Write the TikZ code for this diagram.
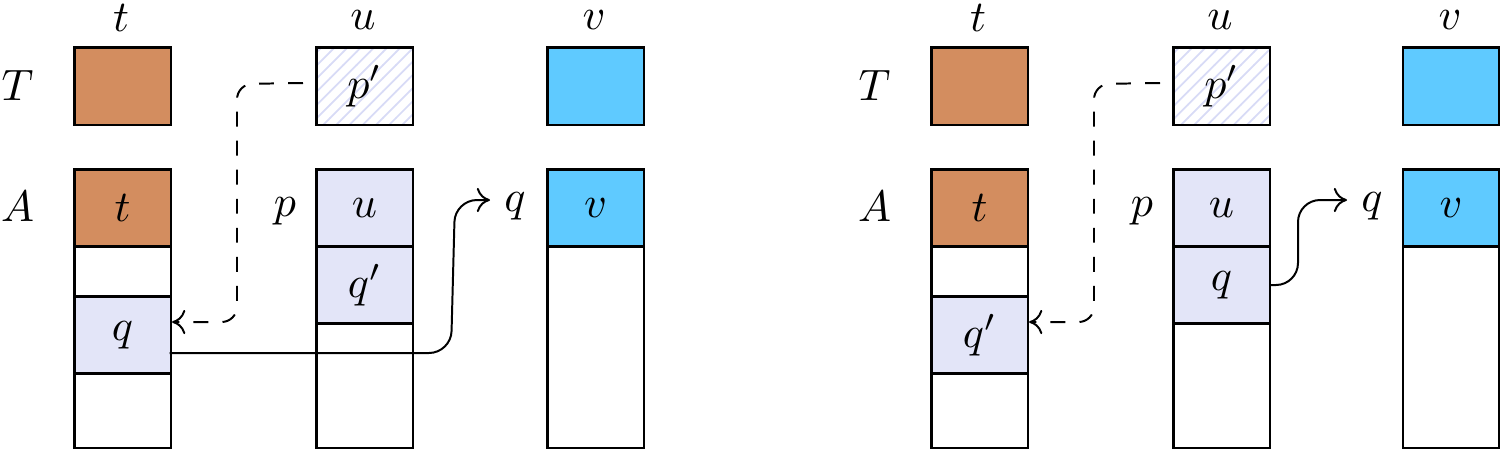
\documentclass[tikz,border=0pt]{standalone}
\usetikzlibrary{patterns,arrows.meta,calc}
\definecolor{corange}{RGB}{211,141,95}
\definecolor{cblue}{RGB}{95,202,255}
\definecolor{clav}{RGB}{227,229,248}
\definecolor{chatch}{RGB}{216,219,246}
\newcommand\pxu{0.2273pt}
\begin{document}
\begin{tikzpicture}[x=0.2273pt,y=-0.2273pt,
  cell/.style={draw, line width=0.6pt, minimum width=96.5*\pxu, inner sep=0pt, anchor=north west},
  hA/.style={minimum height=77*\pxu},
  orangecell/.style={cell, hA, fill=corange},
  bluecell/.style={cell, hA, fill=cblue},
  lavcell/.style={cell, hA, fill=clav},
  hatchcell/.style={cell, minimum height=77.5*\pxu, pattern=north east lines, pattern color=chatch},
  lbl/.style={inner sep=0pt},
  ptr/.style={line width=0.45pt, -{Computer Modern Rightarrow[length=3pt,width=5.5pt]}},
  dptr/.style={ptr, dash pattern=on 3.4pt off 3.2pt, rounded corners=3.5pt},
  sptr/.style={ptr, rounded corners=5pt}
]
\useasboundingbox (0,0) rectangle (1500,448);

% ---------------- left panel ----------------
\node[lbl] (Lht) at (121,18) {$t$};
\node[lbl] (Lhu) at (363,20) {$u$};
\node[lbl] (Lhv) at (594,20) {$v$};
\node[lbl] (LT) at (17.5,85) {$T$};
\node[lbl] (LA) at (17.5,206) {$A$};
\node[lbl] (Lp) at (285,211) {$p$};
\node[lbl] (Lq) at (515,206) {$q$};

\node[cell, minimum height=77.5*\pxu, fill=corange] (LTt) at (73,46) {};
\node[hatchcell] (LTu) at (315,46) {$p'$};
\node[cell, minimum height=77.5*\pxu, fill=cblue] (LTv) at (546,46) {};

\node[orangecell] (LAt1) at (73,168) {$t$};
\node[cell, minimum height=50*\pxu] (LAt2) at (73,245) {};
\node[lavcell] (LAt3) at (73,295) {$q$};
\node[cell, minimum height=74.5*\pxu] (LAt4) at (73,372) {};

\node[lavcell] (LAu1) at (315,168) {$u$};
\node[lavcell] (LAu2) at (315,245) {$q'$};
\node[cell, minimum height=124.5*\pxu] (LAu3) at (315,322) {};

\node[bluecell] (LAv1) at (546,168) {$v$};
\node[cell, minimum height=201.5*\pxu] (LAv2) at (546,245) {};

\coordinate (Ld0) at (303,83);
\coordinate (Ld1) at (237,84);
\coordinate (Ld2) at (237,322);
\draw[dptr] (Ld0) -- (Ld1) -- (Ld2) -- (Ld2 -| LAt3.east);

\coordinate (Ls0) at (169.5,353);
\coordinate (Ls1) at (451,353);
\coordinate (Ls2) at (455,200);
\coordinate (Ls3) at (490,200);
\draw[sptr] (Ls0) -- (Ls1) -- (Ls2) -- (Ls3);

% ---------------- right panel ----------------
\node[lbl] (Rht) at (978,18) {$t$};
\node[lbl] (Rhu) at (1220,20) {$u$};
\node[lbl] (Rhv) at (1450,20) {$v$};
\node[lbl] (RT) at (874.5,85) {$T$};
\node[lbl] (RA) at (874.5,206) {$A$};
\node[lbl] (Rp) at (1142,211) {$p$};
\node[lbl] (Rq) at (1372,206) {$q$};

\node[cell, minimum height=77.5*\pxu, fill=corange] (RTt) at (930,46) {};
\node[hatchcell] (RTu) at (1172,46) {$p'$};
\node[cell, minimum height=77.5*\pxu, fill=cblue] (RTv) at (1401.5,46) {};

\node[orangecell] (RAt1) at (930,168) {$t$};
\node[cell, minimum height=50*\pxu] (RAt2) at (930,245) {};
\node[lavcell] (RAt3) at (930,295) {$q'$};
\node[cell, minimum height=74.5*\pxu] (RAt4) at (930,372) {};

\node[lavcell] (RAu1) at (1172,168) {$u$};
\node[lavcell] (RAu2) at (1172,245) {$q$};
\node[cell, minimum height=124.5*\pxu] (RAu3) at (1172,322) {};

\node[bluecell] (RAv1) at (1401.5,168) {$v$};
\node[cell, minimum height=201.5*\pxu] (RAv2) at (1401.5,245) {};

\coordinate (Rd0) at (1160,83);
\coordinate (Rd1) at (1094,84);
\coordinate (Rd2) at (1094,322);
\draw[dptr] (Rd0) -- (Rd1) -- (Rd2) -- (Rd2 -| RAt3.east);

\coordinate (Rs1) at (1298,285);
\coordinate (Rs2) at (1298,200);
\coordinate (Rs3) at (1347,200);
\draw[sptr] (RAu2.east |- Rs1) -- (Rs1) -- (Rs2) -- (Rs3);
\end{tikzpicture}
\end{document}
